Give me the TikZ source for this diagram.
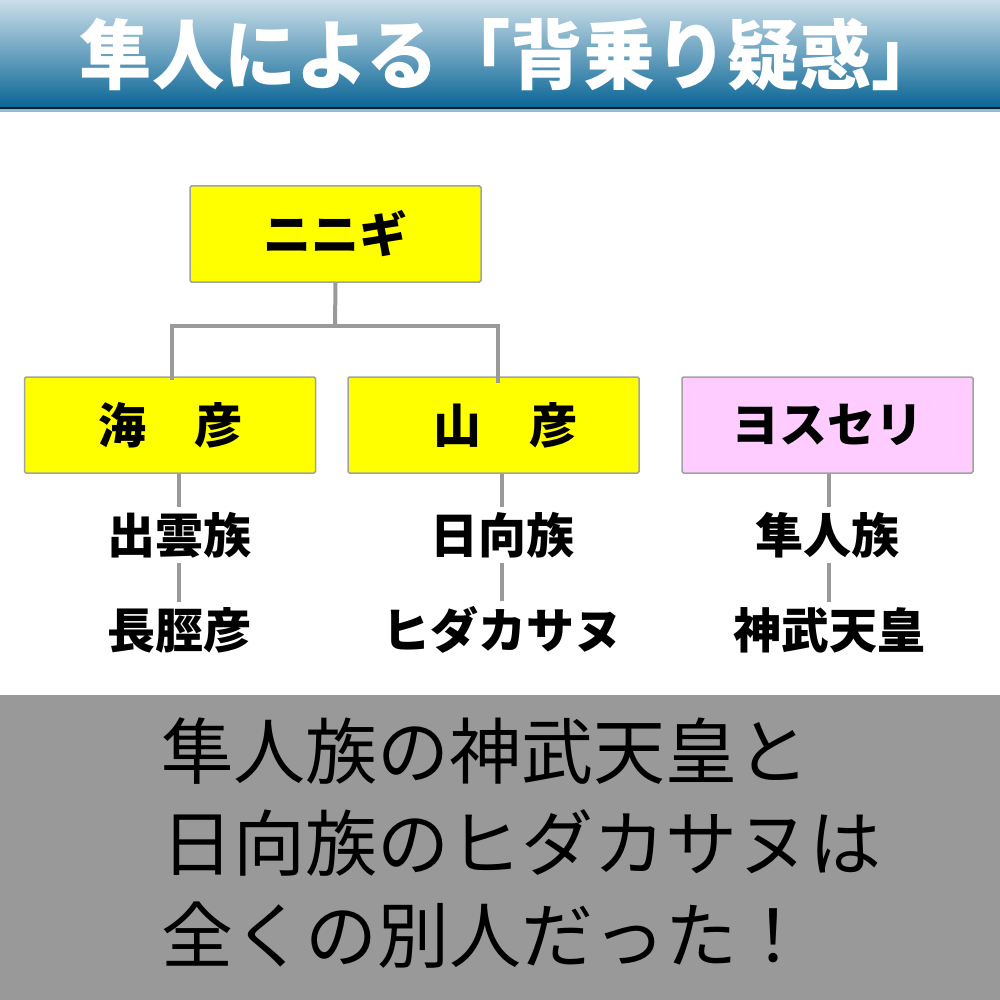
\documentclass[tikz,border=0pt]{standalone}
\usepackage{fontspec}
\usepackage{tikz}
\usetikzlibrary{positioning}
\newfontfamily\jpsans{Noto Sans CJK JP}
\definecolor{boxyellow}{HTML}{FFFF00}
\definecolor{boxpink}{HTML}{FFCCFF}
\definecolor{boxline}{HTML}{A2A2A2}
\definecolor{treeline}{HTML}{9A9A9A}
\definecolor{bandgray}{HTML}{999999}
\definecolor{bannertop}{HTML}{CADEE9}
\definecolor{bannerbottom}{HTML}{0B6696}

\begin{document}
\begin{tikzpicture}[x=1pt, y=-1pt,
    namebox/.style={draw=boxline, line width=1.5pt, rounded corners=1.5pt, minimum width=291pt, minimum height=96pt, font=\jpsans\bfseries\fontsize{48}{48}\selectfont},
    clan/.style={inner sep=5pt, font=\jpsans\bfseries\fontsize{48}{48}\selectfont},
    tree/.style={treeline, line width=4pt}]
    \useasboundingbox (0,0) rectangle (1000,1000);

    % banner
    \shade[top color=bannertop, bottom color=bannerbottom] (0,0) rectangle (1000,107);
    \fill[black!70!bannerbottom] (0,107) rectangle (1000,109);
    \fill[bannerbottom!45] (0,109) rectangle (1000,112);
    \node[text=white, font=\jpsans\bfseries\fontsize{76}{76}\selectfont] (title) at (512,55) {\scalebox{0.95}[1]{隼人による「背乗り疑惑」}};

    \node[namebox, fill=boxyellow] (ninigi) at (335.5,234) {ニニギ};
    \node[namebox, fill=boxyellow] (umi) at (170,425) {海　彦};
    \node[namebox, fill=boxyellow] (yama) at (493.5,425) {\hspace{24pt}山　彦};
    \node[namebox, fill=boxpink] (yoseri) at (827.5,425) {ヨスセリ};

    \node[clan] (izumo) at (179,535) {出雲族};
    \node[clan] (nagasune) at (179,630) {長脛彦};
    \node[clan] (hyuga) at (502,535) {日向族};
    \node[clan] (hidaka) at (502,630) {ヒダカサヌ};
    \node[clan] (hayato) at (827,535) {隼人族};
    \node[clan] (jimmu) at (829,630) {神武天皇};

    \coordinate (fork) at (335,326);
    \draw[tree] (ninigi.south) -- (fork);
    \draw[tree] (fork) -| ([xshift=2pt,yshift=-4pt]umi.north);
    \draw[tree] (fork) -| ([xshift=4pt,yshift=-7pt]yama.north);

    \draw[tree] (umi.south -| izumo.north) -- (izumo.north);
    \draw[tree] (izumo.south) -- (nagasune.north);
    \draw[tree] (yama.south -| hyuga.north) -- (hyuga.north);
    \draw[tree] (hyuga.south) -- (hidaka.north);
    \draw[tree] (yoseri.south -| jimmu.north) -- (jimmu.north |- hayato.north);
    \draw[tree] (jimmu.north |- hayato.south) -- (jimmu.north);

    % bottom band
    \fill[bandgray] (0,695) rectangle (1000,1000);
    \node[anchor=west, align=left, font=\jpsans\fontsize{72}{92}\selectfont] (summary) at (158,843) {隼人族の神武天皇と\\日向族のヒダカサヌは\\全くの別人だった！};
\end{tikzpicture}
\end{document}
